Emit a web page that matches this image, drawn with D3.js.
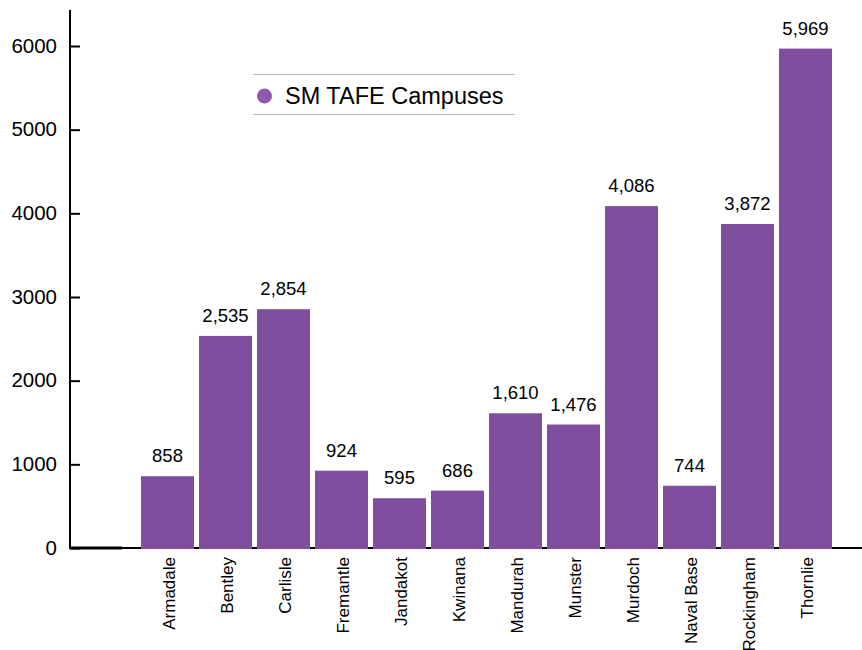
<!DOCTYPE html>
<html><head><meta charset="utf-8">
<script src="https://cdn.jsdelivr.net/npm/d3@7"></script>
<style>body{margin:0;background:#fff}svg{display:block;font-family:"Liberation Sans",Arial,sans-serif}</style>
</head><body><svg id="c" width="862" height="650"></svg>
<script>
const categories = ["", "Armadale","Bentley","Carlisle","Fremantle","Jandakot","Kwinana","Mandurah","Munster","Murdoch","Naval Base","Rockingham","Thornlie"];
const values = [0, 858,2535,2854,924,595,686,1610,1476,4086,744,3872,5969];
const yTicks = [0,1000,2000,3000,4000,5000,6000];
const seriesName = "SM TAFE Campuses";

const svg = d3.select("#c");
const barColor = "#7f4e9e";
const x = d3.scaleBand().domain(categories).range([83, 832]).paddingInner(5/58).paddingOuter(0);
const y = d3.scaleLinear().domain([0, 6000]).range([548, 46]);

// y axis
const ya = svg.append("g").attr("transform","translate(70,0)")
  .call(d3.axisRight(y).tickValues(yTicks).tickSize(10).tickFormat(d3.format("d")));
ya.select(".domain").remove();
ya.selectAll(".tick line").attr("stroke","#000").attr("stroke-width",2);
ya.selectAll(".tick text").attr("x",-13).attr("text-anchor","end").attr("font-size",20.5).attr("fill","#000").attr("dy","0.3em");
svg.append("line").attr("x1",70).attr("x2",70).attr("y1",10).attr("y2",549).attr("stroke","#000").attr("stroke-width",2);

// x axis line
svg.append("line").attr("x1",69).attr("x2",862).attr("y1",548).attr("y2",548).attr("stroke","#000").attr("stroke-width",2);
svg.append("line").attr("x1",70).attr("x2",122).attr("y1",548).attr("y2",548).attr("stroke","#000").attr("stroke-width",3);

// bars
const data = categories.map((c,i)=>({c, v: values[i]})).filter(d=>d.c!=="");
svg.append("g").selectAll("rect").data(data).join("rect")
  .attr("x", d=>x(d.c)).attr("width", x.bandwidth())
  .attr("y", d=>y(d.v)).attr("height", d=>y(0)-y(d.v)+1)
  .attr("fill", barColor);

// value labels
svg.append("g").selectAll("text").data(data).join("text")
  .attr("x", d=>x(d.c)+x.bandwidth()/2).attr("y", d=>y(d.v)-14)
  .attr("text-anchor","middle").attr("font-size",18.5).attr("fill","#000")
  .text(d=>d3.format(",")(d.v));

// category labels
svg.append("g").selectAll("text").data(data).join("text")
  .attr("transform", d=>`translate(${x(d.c)+x.bandwidth()/2+7},557) rotate(-90)`)
  .attr("text-anchor","end").attr("font-size",17).attr("fill","#000")
  .text(d=>d.c);

// legend
const lg = svg.append("g");
lg.append("line").attr("x1",253).attr("x2",515).attr("y1",74.5).attr("y2",74.5).attr("stroke","#bbb").attr("stroke-width",1);
lg.append("line").attr("x1",253).attr("x2",515).attr("y1",114.5).attr("y2",114.5).attr("stroke","#bbb").attr("stroke-width",1);
lg.append("circle").attr("cx",264.5).attr("cy",96).attr("r",7.5).attr("fill","#8e5aaf");
lg.append("text").attr("x",285).attr("y",103.5).attr("font-size",23.5).attr("fill","#000").text(seriesName);
</script></body></html>
